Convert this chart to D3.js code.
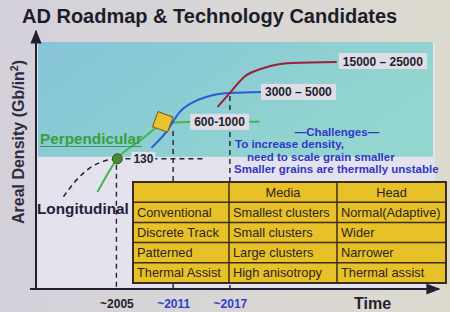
<!DOCTYPE html>
<html>
<head>
<meta charset="utf-8">
<script src="https://cdn.jsdelivr.net/npm/d3@7"></script>
<style>
  body { margin: 0; background: #d8d5dd; }
  svg { display: block; font-family: "Liberation Sans", Arial, sans-serif; }
</style>
</head>
<body>
<div id="wrapper"></div>
<script>
// data (year, areal density Gb/in2)
const tickYears = [2005, 2011, 2017]
const tickLabels = ["~2005", "~2011", "~2017"]
const milestoneDensity = [130, 800, 4000]

const longitudinal = [[1999.4, 18], [2000.6, 39], [2002.2, 81], [2003.8, 117], [2005.1, 130]]
const perpendicular = [[2003.0, 23], [2005.1, 130], [2007.6, 349], [2009.4, 686], [2010.7, 845], [2013.9, 890], [2020.1, 890]]
const blueCurve = [[2008.7, 230], [2010.2, 502], [2011.8, 1577], [2013.4, 2650], [2015.3, 3620], [2017.0, 4020], [2020.5, 4240]]
const redCurve = [[2015.7, 1941], [2017.0, 4020], [2018.5, 9230], [2020.6, 14700], [2023.5, 19100], [2028.3, 20100]]

const rangeLabels = ["130", "600-1000", "3000 – 5000", "15000 – 25000"]

const challenges = ["—Challenges—", "To increase density,", "need to scale grain smaller", "Smaller grains are thermally unstable"]

const tableHeader = ["", "Media", "Head"]
const tableRows = [
  ["Conventional", "Smallest clusters", "Normal(Adaptive)"],
  ["Discrete Track", "Small clusters", "Wider"],
  ["Patterned", "Large clusters", "Narrower"],
  ["Thermal Assist", "High anisotropy", "Thermal assist"],
]

const width = 450, height = 312

const svg = d3.select("#wrapper").append("svg")
    .attr("width", width)
    .attr("height", height)

const defs = svg.append("defs")
const bg = defs.append("linearGradient").attr("id", "bg").attr("x1", 0).attr("x2", 1).attr("y1", 0).attr("y2", 0)
bg.append("stop").attr("offset", "0%").attr("stop-color", "#d4d1db")
bg.append("stop").attr("offset", "100%").attr("stop-color", "#dddacf")
const teal = defs.append("linearGradient").attr("id", "teal").attr("x1", 0).attr("x2", 1).attr("y1", 0).attr("y2", 0.4)
teal.append("stop").attr("offset", "0%").attr("stop-color", "#86c4d8")
teal.append("stop").attr("offset", "100%").attr("stop-color", "#93d6cf")
defs.append("marker").attr("id", "arrow")
    .attr("viewBox", "0 0 10 10").attr("refX", 9).attr("refY", 5)
    .attr("markerWidth", 7).attr("markerHeight", 7).attr("orient", "auto-start-reverse")
  .append("path").attr("d", "M0,1 L10,5 L0,9 Z").attr("fill", "#202030")

svg.append("rect").attr("width", width).attr("height", height).attr("fill", "url(#bg)")

// scales
const x = d3.scaleLinear().domain([1996.5, 2039]).range([36, 438])
const y = d3.scaleLog().domain([0.14, 96000]).range([290, 32])

// plot background + teal band
svg.append("rect").attr("x", 37).attr("y", 42).attr("width", 398).attr("height", 248).attr("fill", "#e4e2ed")
svg.append("rect").attr("x", 38).attr("y", 42).attr("width", 395).attr("height", y(130) - 44).attr("fill", "url(#teal)")

// title
svg.append("text").attr("x", 22).attr("y", 23)
    .attr("font-size", 20).attr("font-weight", "bold").attr("fill", "#1c1c2a")
    .text("AD Roadmap & Technology Candidates")

// axes
svg.append("line").attr("x1", 36).attr("y1", 290).attr("x2", 36).attr("y2", 31)
    .attr("stroke", "#202030").attr("stroke-width", 2).attr("marker-end", "url(#arrow)")
svg.append("line").attr("x1", 30).attr("y1", 289).attr("x2", 439).attr("y2", 289)
    .attr("stroke", "#202030").attr("stroke-width", 2).attr("marker-end", "url(#arrow)")

const xAxis = svg.append("g")
    .attr("transform", "translate(0,289)")
    .call(d3.axisBottom(x).tickValues(tickYears).tickFormat((d, i) => tickLabels[i]).tickSize(0).tickPadding(10))
xAxis.select(".domain").remove()
xAxis.selectAll("text")
    .attr("font-size", 12).attr("font-weight", "bold").attr("font-family", "Liberation Sans, Arial, sans-serif")
    .attr("fill", (d, i) => i === 0 ? "#22222e" : "#2f3fcc")

svg.append("text").attr("x", 354).attr("y", 309)
    .attr("font-size", 16).attr("font-weight", "bold").attr("fill", "#22222e").text("Time")

const yLabel = svg.append("text")
    .attr("transform", "translate(24,142) rotate(-90)")
    .attr("text-anchor", "middle")
    .attr("font-size", 16).attr("font-weight", "bold").attr("fill", "#2d2d3d")
yLabel.append("tspan").text("Areal Density (Gb/in")
yLabel.append("tspan").attr("font-size", 10.5).attr("dy", -6).text("2")
yLabel.append("tspan").attr("dy", 6).text(")")

// dashed guide lines
const dash = svg.append("g").attr("stroke", "#222233").attr("stroke-width", 1.4).attr("stroke-dasharray", "5,4")
const guideStart = [6, 7, 3]
dash.selectAll("line.v")
  .data(tickYears)
  .join("line")
    .attr("class", "v")
    .attr("x1", d => x(d)).attr("x2", d => x(d))
    .attr("y1", (d, i) => y(milestoneDensity[i]) + guideStart[i]).attr("y2", 288)
dash.append("line")
    .attr("x1", x(2005) + 9).attr("x2", x(2014.3))
    .attr("y1", y(130)).attr("y2", y(130))

// curves
const line = d3.line().x(d => x(d[0])).y(d => y(d[1])).curve(d3.curveMonotoneX)
svg.append("path").datum(longitudinal).attr("d", line)
    .attr("fill", "none").attr("stroke", "#222233").attr("stroke-width", 1.5).attr("stroke-dasharray", "5,4")
svg.append("path").datum(perpendicular).attr("d", line)
    .attr("fill", "none").attr("stroke", "#3fb84c").attr("stroke-width", 2)
svg.append("path").datum(blueCurve).attr("d", line)
    .attr("fill", "none").attr("stroke", "#2b5ad6").attr("stroke-width", 2)
svg.append("path").datum(redCurve).attr("d", line)
    .attr("fill", "none").attr("stroke", "#9e1f3c").attr("stroke-width", 2)

// markers
svg.append("circle").attr("cx", x(2005.1)).attr("cy", y(130)).attr("r", 5)
    .attr("fill", "#4b8a32").attr("stroke", "#2d5a1e").attr("stroke-width", 1)
svg.append("path")
    .attr("transform", `translate(${x(2009.9)},${y(800) - 2}) rotate(20)`)
    .attr("d", "M-8,-8 L8,-8 L8,8 L-8,8 Z")
    .attr("fill", "#e9c234").attr("stroke", "#7a5a12").attr("stroke-width", 1)

// range labels
function boxLabel(txt, cx, cy, anchor) {
  const g = svg.append("g")
  const t = g.append("text").attr("x", cx).attr("y", cy + 4.5)
      .attr("text-anchor", anchor)
      .attr("font-size", 12).attr("font-weight", "bold").attr("fill", "#22222e")
      .text(txt)
  const b = t.node().getBBox()
  g.insert("rect", "text").attr("x", b.x - 4).attr("y", cy - 8).attr("width", b.width + 8).attr("height", 16)
      .attr("fill", "#dedde6")
  return g
}
// 130 label sits on the slide without a box
svg.append("rect").attr("x", x(2005) + 15).attr("y", y(130) - 7).attr("width", 24).attr("height", 14).attr("fill", "#e0e2ea")
svg.append("text").attr("x", x(2005) + 17).attr("y", y(130) + 4.5)
    .attr("font-size", 12).attr("font-weight", "bold").attr("fill", "#22222e").text(rangeLabels[0])
boxLabel(rangeLabels[1], x(2015.9), y(890), "middle")
boxLabel(rangeLabels[2], x(2020.5) + 2, y(4240), "start")
boxLabel(rangeLabels[3], x(2028.3) + 6, y(20100) - 1, "start")

// technology labels
svg.append("text").attr("x", 40).attr("y", 144)
    .attr("font-size", 15.3).attr("font-weight", "bold").attr("fill", "#3a9e3e").text("Perpendicular")
svg.append("line").attr("x1", 40).attr("x2", 142).attr("y1", 146.5).attr("y2", 146.5)
    .attr("stroke", "#3a9e3e").attr("stroke-width", 1.2)
svg.append("text").attr("x", 37).attr("y", 214)
    .attr("font-size", 15.3).attr("font-weight", "bold").attr("fill", "#22223a").text("Longitudinal")

// challenges
const chX = [337, 235, 247, 234]
const chY = [136, 148, 161, 173]
svg.append("g").selectAll("text")
  .data(challenges)
  .join("text")
    .attr("x", (d, i) => chX[i]).attr("y", (d, i) => chY[i])
    .attr("text-anchor", (d, i) => i === 0 ? "middle" : "start")
    .attr("font-size", 11.5).attr("font-weight", "bold").attr("fill", "#3236c8")
    .text(d => d)

// table
const colX = [133, 229, 337, 446]
const rowY = d3.scaleLinear().domain([0, 5]).range([182, 283])
const table = svg.append("g")
const allRows = [tableHeader, ...tableRows]
table.append("rect").attr("x", colX[0]).attr("y", rowY(0))
    .attr("width", colX[3] - colX[0]).attr("height", rowY(5) - rowY(0))
    .attr("fill", "#e8c128")
allRows.forEach((row, r) => {
  row.forEach((cell, c) => {
    table.append("text")
        .attr("x", r === 0 ? (colX[c] + colX[c + 1]) / 2 : colX[c] + 4)
        .attr("y", (rowY(r) + rowY(r + 1)) / 2 + 4.5)
        .attr("text-anchor", r === 0 ? "middle" : "start")
        .attr("font-size", 12.8).attr("fill", "#2a2622")
        .text(cell)
  })
})
const grid = table.append("g").attr("stroke", "#3b2d1c").attr("stroke-width", 1.5)
d3.range(1, 5).forEach(r => {
  grid.append("line").attr("x1", colX[0]).attr("x2", colX[3]).attr("y1", rowY(r)).attr("y2", rowY(r))
})
colX.slice(1, 3).forEach(cx => {
  grid.append("line").attr("x1", cx).attr("x2", cx).attr("y1", rowY(0)).attr("y2", rowY(5))
})
grid.append("rect").attr("x", colX[0]).attr("y", rowY(0))
    .attr("width", colX[3] - colX[0]).attr("height", rowY(5) - rowY(0)).attr("fill", "none")
    .attr("stroke-width", 2)
</script>
</body>
</html>
